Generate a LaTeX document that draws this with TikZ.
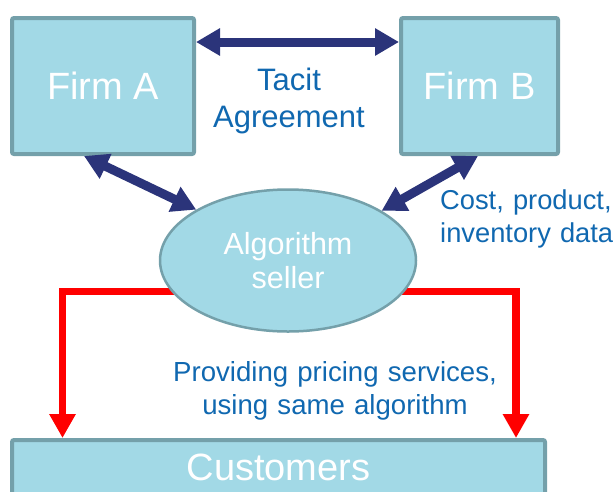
\documentclass[tikz,border=0pt]{standalone}
\usepackage{fontspec}
\setmainfont{Liberation Sans}
\usetikzlibrary{arrows.meta,shapes.geometric}
\definecolor{boxfill}{RGB}{162,217,230}
\definecolor{boxedge}{RGB}{116,160,170}
\definecolor{navy}{RGB}{43,52,122}
\definecolor{labelblue}{RGB}{16,104,176}
\definecolor{pricered}{RGB}{255,0,0}
\pgfdeclarelayer{under}
\pgfsetlayers{under,main}

\begin{document}
\begin{tikzpicture}[x=1pt,y=-1pt,
  box/.style={draw=boxedge,fill=boxfill,line width=4pt,rounded corners=2pt,
    inner sep=0pt,text=white,font=\fontsize{38}{42}\selectfont},
  link/.style={draw=navy,line width=9pt,
    {Triangle[width=26pt,length=24pt]}-{Triangle[width=26pt,length=24pt]}},
  feed/.style={draw=pricered,line width=7.5pt,-{Triangle[width=25pt,length=24pt]}},
  note/.style={text=labelblue,inner sep=0pt}]
\useasboundingbox (0,0) rectangle (613,491);
\clip (0,0) rectangle (613,491);

% the two firms and their customers
\node[box,minimum width=182pt,minimum height=136pt] (fa) at (103,86) {Firm A};
\node[box,minimum width=157pt,minimum height=136pt] (fb) at (479.5,86) {Firm B};
\node[box,minimum width=533pt,minimum height=55pt,text depth=0pt] (cust) at (278.5,467.5) {Customers};

% the shared pricing service
\node[ellipse,draw=boxedge,fill=boxfill,line width=2.5pt,inner sep=0pt,
  minimum width=256pt,minimum height=142pt,text=white,align=center,
  font=\fontsize{30.5}{34}\selectfont] (seller) at (288,260.5) {Algorithm\\seller};

% collusion and data flows
\draw[link] ([yshift=-26pt]fa.north east) -- ([yshift=-26pt]fb.north west);
\draw[link] ([xshift=74pt]fa.south west) -- (seller.151.7);
\draw[link] ([xshift=79pt]fb.south west) -- (seller.28.3);

% pricing delivered to customers
\begin{pgfonlayer}{under}
\draw[feed] ([xshift=12pt]seller.195) -| ([xshift=52.5pt]cust.north west);
\draw[feed] ([xshift=-12pt]seller.-15) -| ([xshift=506pt]cust.north west);
\end{pgfonlayer}

% labels
\node[note,anchor=base,text width=200pt,align=center,
  font=\fontsize{31}{37}\selectfont] (tacit) at (289,90) {Tacit\\Agreement};
\node[note,anchor=base west,text width=190pt,align=left,
  font=\fontsize{27.3}{33.5}\selectfont] (data) at (440,209) {Cost, product,\\inventory data};
\node[note,anchor=base,text width=360pt,align=center,
  font=\fontsize{27.6}{33}\selectfont] (service) at (335,381) {Providing pricing services,\\using same algorithm};
\end{tikzpicture}
\end{document}
